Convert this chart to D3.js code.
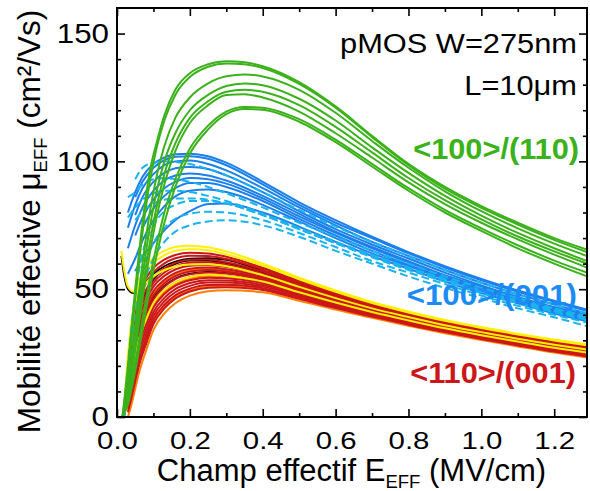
<!DOCTYPE html>
<html><head><meta charset="utf-8">
<script src="https://cdn.jsdelivr.net/npm/d3@7"></script>
<style>body{margin:0;background:#fff}svg{display:block;font-family:"Liberation Sans",Arial,Helvetica,sans-serif}</style>
</head><body><svg id="c" width="590" height="491"></svg>
<script>
// ---------- axis ticks ----------
const xTicks = [0, 0.2, 0.4, 0.6, 0.8, 1.0, 1.2];
const xMinor = [0.1, 0.3, 0.5, 0.7, 0.9, 1.1];
const yTicks = [0, 50, 100, 150];
const yMinor = [10, 20, 30, 40, 60, 70, 80, 90, 110, 120, 130, 140];

// ---------- <100>/(110) green curves ----------
const gridGreen = [0.015,0.03,0.05,0.07,0.09,0.11,0.13,0.16,0.2,0.25,0.3,0.35,0.4,0.5,0.6,0.7,0.8,0.9,1.0,1.1,1.2,1.29];
const green = [
  [0,20,50,76,96,108,118,128,134.5,138,139.2,138.8,137.2,131,121.5,110,99,90,82.5,76,70,65.5],
  [0,17,46,72,92,106,116,126,133,137,138.3,138,136.5,130.3,121,109.5,98.5,89.3,81.8,75.3,69.3,64.5],
  [0,12,36,60,80,95,106,117,125,130.5,133.3,134,133.2,128,119,108,97.5,88.3,80.5,73.8,67.8,63],
  [0,10,32,55,74,89,100,111,120,126,129.5,130.5,129.8,124.5,116,105.5,95.5,86.5,78.8,72,66,61],
  [0,9,29,50,68,83,95,107,117,123.5,127.2,128,127.2,122,113.5,103.5,93.5,84.8,77.3,70.6,64.8,60],
  [0,8,26,46,64,79,91,104,115,122,126,126.3,125,119.5,111,101.5,91.8,83.3,76,69.5,63.5,58.5],
  [0,6,21,38,54,68,80,93,105,114,119.5,121.3,121,116.5,108.5,99,89.5,81,73.8,67.2,61.2,56.5],
  [0,5,18,34,50,64,76,90,103,112.5,118.5,120.5,120.2,115.5,107.5,98,88.5,80,72.8,66,60,55]
];

// ---------- <100>/(001) blue curves ----------
const gridBlue = [0.02,0.03,0.05,0.07,0.1,0.13,0.16,0.2,0.25,0.3,0.4,0.5,0.6,0.7,0.8,0.9,1.0,1.1,1.2,1.29];
const blueSolid = [
  [null,80,88,94,99,101.5,102.8,103,102,99.5,92,84,77,70.5,64.5,59,54,49.5,45.5,42],
  [null,null,86,92,97.5,100.5,101.8,102,101,98.5,91,83,76,70,64,58.5,53.5,49,45,41.5],
  [null,74,83,89.5,95,98.5,100,100.3,99,96.5,89.5,82,75,68.5,63,57.5,52.5,48,44,40.5],
  [null,null,79,86,92,95.5,97.3,97.8,97,94.5,88,80.5,73.5,67.5,62,56.5,51.5,47,43,40],
  [null,66,75,82,88.5,92.5,94.5,95.3,94.5,92.5,86.5,79.5,72.5,66.5,61,55.5,51,46.5,42.5,39.5],
  [null,null,71,78,85,89.5,92,93.5,93,91.3,85.5,78.5,72,66,60.5,55,50.5,46,42,39],
  [null,null,null,74,81.5,86.5,89.5,91.5,91.5,90,84.5,77.5,71,65,59.5,54.5,50,45.5,41.5,38.5],
  [null,56,62,69,77,82.5,86.3,88.5,89,88,83,76.5,70,64,59,54,49.5,45,41,38],
  [null,null,57,62.5,68,73,77,80.5,83.3,83.5,80,74.5,68.5,63,58,53,48.5,44.5,40.5,37.5]
];
const blueDashed = [
  [null,null,93,97.5,99.5,100,99.8,99,97,94.5,88,81,74.5,68.5,63,57.5,52.5,48,44,40.5],
  [null,86,88,91,93,93.5,93,92,90,87.5,82,76,70.5,65,60,55,50.5,46.5,42.5,39.5],
  [null,78,82,85,87.5,88.5,88.5,88,86.5,84.5,79.5,74,68.5,63.5,58.5,54,49.5,45.5,42,39],
  [null,null,77,80.5,83.5,85,85.5,85.5,85,83.5,79,73.5,68,63,58,53.5,49,45,41.5,38.5],
  [0,20,48,64,75,80.5,83,84.5,84.5,83.5,79,73.5,68,62.5,57.5,53,48.5,44.5,41,38],
  [0,16,40,56,68,74,77.5,79.5,80.3,80,77,72,66.5,61,56.5,52,47.5,43.5,40,37],
  [0,12,34,50,62,68.5,72.5,75,76.5,77,75,70.5,65,60,55,50.5,46.5,42.5,39,35.5]
];

// ---------- <110>/(001) curves (yellow / black / red / orange) ----------
const gridRed = [0.02,0.03,0.04,0.05,0.06,0.08,0.1,0.13,0.16,0.2,0.25,0.3,0.4,0.5,0.6,0.7,0.8,0.9,1.0,1.1,1.2,1.29];
const gridHook = [0.012,0.02,0.03,0.045,0.06,0.08,0.1,0.13,0.16,0.2,0.25,0.3,0.4,0.5,0.6,0.7,0.8,0.9,1.0,1.1,1.2,1.29];
const orange = [
  [2,12.2,21.8,29.4,35.4,42.8,48.4,53,55.7,57.4,58,57.4,54.5,50.1,45.8,42,38.6,35.5,32.7,30.2,27.8,26],
  [1.4,8.2,16.2,23.2,29.2,37.2,43.6,48.8,52,54.1,55,54.8,52.6,48.6,44.6,40.9,37.6,34.6,31.8,29.3,26.9,25.1],
  [null,2.6,8.6,15,21,29.6,37.1,43.2,46.9,49.6,51.1,51.3,50,46.5,42.8,39.5,36.3,33.4,30.7,28.2,25.8,23.9],
  [null,0,5,11,17,26,34,40.5,44.5,47.5,49.2,49.6,48.8,45.5,42,38.8,35.7,32.8,30.1,27.6,25.2,23.3]
];
const red = [
  [3.4,20.6,33.4,42,48,54.4,58.3,61.6,63.4,64.3,64,62.7,58.4,53.2,48.5,44.1,40.5,37.3,34.5,31.9,29.6,27.8],
  [3.2,19.2,31.4,39.8,45.8,52.4,56.6,60.1,62.1,63.1,63,61.8,57.8,52.7,48,43.8,40.2,37,34.2,31.6,29.3,27.5],
  [2.9,17.3,28.8,36.9,42.9,49.8,54.4,58.1,60.3,61.5,61.6,60.5,56.9,52,47.4,43.3,39.7,36.5,33.8,31.2,28.9,27],
  [2.6,15.7,26.6,34.6,40.6,47.6,52.5,56.5,58.9,60.3,60.5,59.6,56.1,51.4,46.9,42.9,39.4,36.2,33.4,30.9,28.5,26.7],
  [2.4,14.4,24.8,32.6,38.6,45.8,51,55.2,57.7,59.2,59.5,58.7,55.5,50.9,46.5,42.5,39.1,35.9,33.2,30.6,28.3,26.4],
  [2.2,13,22.8,30.4,36.4,43.8,49.3,53.7,56.4,58,58.5,57.8,54.8,50.4,46,42.1,38.7,35.6,32.9,30.3,28,26.1],
  [1.9,11.5,20.8,28.3,34.3,41.8,47.6,52.3,55.1,56.9,57.5,56.9,54.2,49.8,45.6,41.8,38.4,35.3,32.5,30,27.6,25.8],
  [1.7,10.2,19,26.3,32.3,40,46,50.9,53.9,55.8,56.5,56.1,53.6,49.3,45.2,41.4,38.1,35,32.3,29.7,27.4,25.5],
  [1.5,8.9,17.2,24.3,30.3,38.2,44.5,49.6,52.6,54.7,55.6,55.2,53,48.8,44.8,41.1,37.8,34.7,32,29.5,27.1,25.2],
  [1.2,7.4,15.2,22.2,28.2,36.2,42.8,48.1,51.3,53.5,54.5,54.3,52.3,48.3,44.3,40.7,37.4,34.4,31.7,29.2,26.8,24.9],
  [null,6,13.3,20,26,34.3,41.1,46.6,50,52.4,53.5,53.4,51.6,47.8,43.9,40.4,37.1,34.1,31.4,28.9,26.5,24.6],
  [null,4.7,11.4,18,24,32.4,39.5,45.3,48.8,51.3,52.6,52.6,51,47.3,43.5,40,36.8,33.8,31.1,28.6,26.2,24.3],
  [null,3.4,9.6,16,22,30.6,38,43.9,47.6,50.2,51.6,51.7,50.4,46.8,43.1,39.7,36.5,33.5,30.8,28.3,25.9,24],
  [null,1.9,7.6,13.9,19.9,28.6,36.3,42.5,46.3,49.1,50.6,50.8,49.7,46.2,42.6,39.3,36.1,33.2,30.5,28,25.6,23.7]
];
const black = [
  [2.8,16.8,28.1,36.2,42.2,49.1,53.8,57.7,59.9,61.2,61.2,60.2,56.6,51.8,47.3,43.1,39.6,36.4,33.7,31.1,28.8,26.9],
  [1.8,10.6,19.5,26.8,32.8,40.5,46.5,51.3,54.2,56.1,56.8,56.3,53.7,49.5,45.3,41.5,38.2,35.1,32.3,29.8,27.4,25.6]
];
const blackHook = [63,55,50,48.5,50,53,56,59,60.8,61.9,62.1,61.5,57.1,52.2,47.6,43.4,39.8,36.6,33.9,31.3,29,27.1];
const yellow = [
  [4,24,38,47,53,59,62.3,65,66.5,67,66.4,64.8,60,54.5,49.5,45,41.3,38,35.2,32.6,30.3,28.5],
  [3.7,22.3,31.7,44.5,50.5,56.7,60.3,63.3,65,65.6,65.2,63.7,59.2,53.9,49,44.6,40.9,37.6,34.8,32.3,29.9,28.1],
  [1.5,8.9,17.2,24.3,30.3,38.2,44.5,49.6,52.6,54.7,55.6,55.2,53,48.8,44.8,41.1,37.8,34.7,32,29.5,27.1,25.2]
];
const yellowHook = [65,57,51,49,50,52.5,55,57.5,58.9,59.7,59.8,59,55.5,50.9,46.5,42.5,39.1,35.9,33.2,30.6,28.3,26.4];

// ---------- colours ----------
const C = {green:"#3bb21b", blue:"#1b80ec", cyan:"#1bb3ef", red:"#cc1719", orange:"#ff8000", yellow:"#fff000", black:"#000", blueLabel:"#1b8cf5"};

// ---------- drawing ----------
const svg = d3.select("#c");
const L = 117, R = 587, T = 8, B = 417;
const x = d3.scaleLinear().domain([0, 1.29]).range([L, R]);
const y = d3.scaleLinear().domain([0, 160]).range([B, T]);

svg.append("defs").append("clipPath").attr("id","clip")
  .append("rect").attr("x",L).attr("y",T).attr("width",R-L).attr("height",B-T);

const plot = svg.append("g").attr("clip-path","url(#clip)");
const line = grid => d3.line()
  .defined(d => d[1] != null)
  .x(d => x(d[0])).y(d => y(d[1]))
  .curve(d3.curveMonotoneX);

function drawSet(grid, sets, color, width, dash) {
  const lg = line(grid);
  plot.append("g").selectAll("path").data(sets).join("path")
    .attr("d", vals => lg(grid.map((g, i) => [g, vals[i]])))
    .attr("fill","none").attr("stroke",color).attr("stroke-width",width)
    .attr("stroke-linejoin","round").attr("stroke-linecap","butt")
    .attr("stroke-dasharray", dash || null);
}

drawSet(gridRed, orange, C.orange, 2);
drawSet(gridRed, black, C.black, 1.8);
drawSet(gridHook, [blackHook], C.black, 1.8);
drawSet(gridRed, red, C.red, 2);
drawSet(gridRed, yellow, C.yellow, 2);
drawSet(gridHook, [yellowHook], C.yellow, 2);
drawSet(gridBlue, blueSolid, C.blue, 2);
drawSet(gridBlue, blueDashed, C.cyan, 2, "8,4");
drawSet(gridGreen, green, C.green, 2);

// ---------- axes ----------
function styleAxis(g){ g.select(".domain").remove(); g.selectAll("line").attr("stroke","#000").attr("stroke-width",1.6); }
svg.append("g").attr("transform",`translate(0,${B})`)
  .call(d3.axisBottom(x).tickValues(xTicks).tickSizeInner(-8).tickSizeOuter(0).tickPadding(15).tickFormat(d3.format(".1f")))
  .call(styleAxis)
  .call(g => g.selectAll("text").attr("font-size",24.5).attr("fill","#000").attr("font-family","Liberation Sans, Arial, sans-serif").attr("transform","scale(1.2,1)"));
svg.append("g").attr("transform",`translate(0,${B})`)
  .call(d3.axisBottom(x).tickValues(xMinor).tickSize(-4).tickFormat("")).call(styleAxis);
svg.append("g").attr("transform",`translate(0,${T})`)
  .call(d3.axisTop(x).tickValues(xTicks).tickSize(-8).tickFormat("")).call(styleAxis);
svg.append("g").attr("transform",`translate(0,${T})`)
  .call(d3.axisTop(x).tickValues(xMinor).tickSize(-4).tickFormat("")).call(styleAxis);
svg.append("g").attr("transform",`translate(${L},0)`)
  .call(d3.axisLeft(y).tickValues(yTicks).tickSizeInner(-8).tickSizeOuter(0).tickPadding(7))
  .call(styleAxis)
  .call(g => g.selectAll("text").attr("font-size",27.5).attr("fill","#000").attr("font-family","Liberation Sans, Arial, sans-serif").attr("transform","scale(1.14,1)"));
svg.append("g").attr("transform",`translate(${L},0)`)
  .call(d3.axisLeft(y).tickValues(yMinor).tickSize(-4).tickFormat("")).call(styleAxis);
svg.append("g").attr("transform",`translate(${R},0)`)
  .call(d3.axisRight(y).tickValues(yTicks).tickSize(-8).tickFormat("")).call(styleAxis);
svg.append("g").attr("transform",`translate(${R},0)`)
  .call(d3.axisRight(y).tickValues(yMinor).tickSize(-4).tickFormat("")).call(styleAxis);

svg.append("rect").attr("x",L).attr("y",T).attr("width",R-L).attr("height",B-T)
  .attr("fill","none").attr("stroke","#000").attr("stroke-width",2);

// ---------- titles ----------
const yt = svg.append("text").attr("transform","translate(40,221.5) rotate(-90)")
  .attr("text-anchor","middle").attr("font-size",31.5).attr("fill","#000");
yt.append("tspan").text("Mobilité effective μ");
yt.append("tspan").attr("font-size",18.5).attr("dy",7).text("EFF");
yt.append("tspan").attr("dy",-7).text(" (cm²/Vs)");

const xt = svg.append("text").attr("x",351.5).attr("y",481)
  .attr("text-anchor","middle").attr("font-size",31).attr("fill","#000");
xt.append("tspan").text("Champ effectif E");
xt.append("tspan").attr("font-size",18.5).attr("dy",7).text("EFF");
xt.append("tspan").attr("dy",-7).text(" (MV/cm)");

// ---------- annotations ----------
const notes = [
  {t:"pMOS W=275nm", x:577, y:53, c:"#000", w:"normal", s:28, k:1.1},
  {t:"L=10μm", x:577, y:95, c:"#000", w:"normal", s:28, k:1.1},
  {t:"<100>/(110)", x:579, y:159, c:C.green, w:"bold", s:29, k:1.06},
  {t:"<100>/(001)", x:577, y:305, c:C.blueLabel, w:"bold", s:29.5, k:1.06},
  {t:"<110>/(001)", x:576, y:383, c:C.red, w:"bold", s:29, k:1.06}
];
svg.append("g").selectAll("text").data(notes).join("text")
  .attr("transform", d => `translate(${d.x},${d.y}) scale(${d.k},1)`)
  .attr("text-anchor","end").attr("font-size", d => d.s).attr("font-weight", d => d.w)
  .attr("fill", d => d.c).text(d => d.t);
</script></body></html>
